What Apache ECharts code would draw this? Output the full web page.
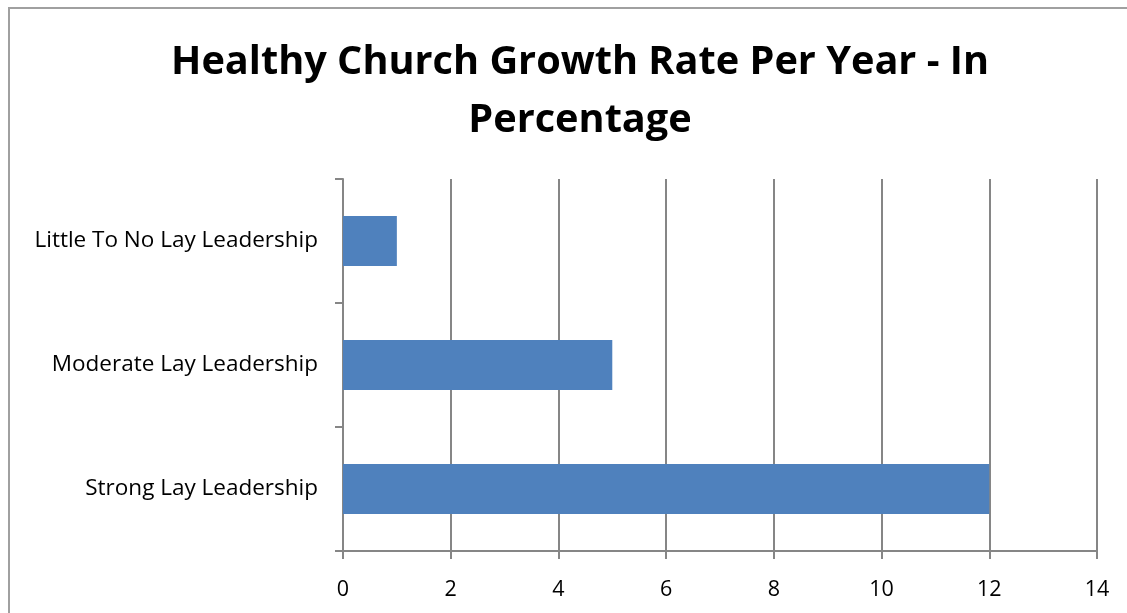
<!DOCTYPE html>
<html><head><meta charset="utf-8">
<script src="https://cdn.jsdelivr.net/npm/echarts@6/dist/echarts.min.js"></script>
<style>
html,body{margin:0;padding:0;overflow:hidden;background:#fff;}
#frame{position:absolute;left:8px;top:7px;width:1200px;height:700px;border:2px solid #a0a0a0;box-sizing:border-box;}
#c{position:absolute;left:0;top:0;width:1127px;height:613px;}
</style></head>
<body>
<div id="frame"></div>
<div id="c"></div>
<script>
const titleText = 'Healthy Church Growth Rate Per Year - In\nPercentage';
const categories = ['Strong Lay Leadership', 'Moderate Lay Leadership', 'Little To No Lay Leadership'];
const values = [12, 5, 1];
const xMin = 0, xMax = 14, xInterval = 2;

const chart = echarts.init(document.getElementById('c'));
chart.setOption({
  animation: false,
  title: {
    text: titleText,
    left: 575, textAlign: 'center', top: 29,
    textStyle: {fontFamily: 'Open Sans', fontWeight: 'bold', fontSize: 39.7, lineHeight: 58, color: '#000'}
  },
  grid: {left: 343, right: 30, top: 179, bottom: 62, containLabel: false},
  xAxis: {
    type: 'value', min: xMin, max: xMax, interval: xInterval,
    axisLine: {show: true, lineStyle: {color: '#868686', width: 2}},
    axisTick: {show: true, length: 8, lineStyle: {color: '#868686', width: 2}},
    splitLine: {show: true, lineStyle: {color: '#868686', width: 2}},
    axisLabel: {fontFamily: 'Open Sans', fontSize: 21.5, color: '#000', margin: 28}
  },
  yAxis: {
    type: 'category', data: categories,
    axisLine: {show: true, lineStyle: {color: '#868686', width: 2}},
    axisTick: {show: true, length: 8, alignWithLabel: false, lineStyle: {color: '#868686', width: 2}},
    axisLabel: {fontFamily: 'Open Sans', fontSize: 22.5, color: '#000', margin: 25, padding: [5, 0, 0, 0]}
  },
  series: [{
    type: 'bar', data: values, barWidth: 50,
    itemStyle: {color: '#4F81BD'}
  }]
});
</script>
</body></html>
